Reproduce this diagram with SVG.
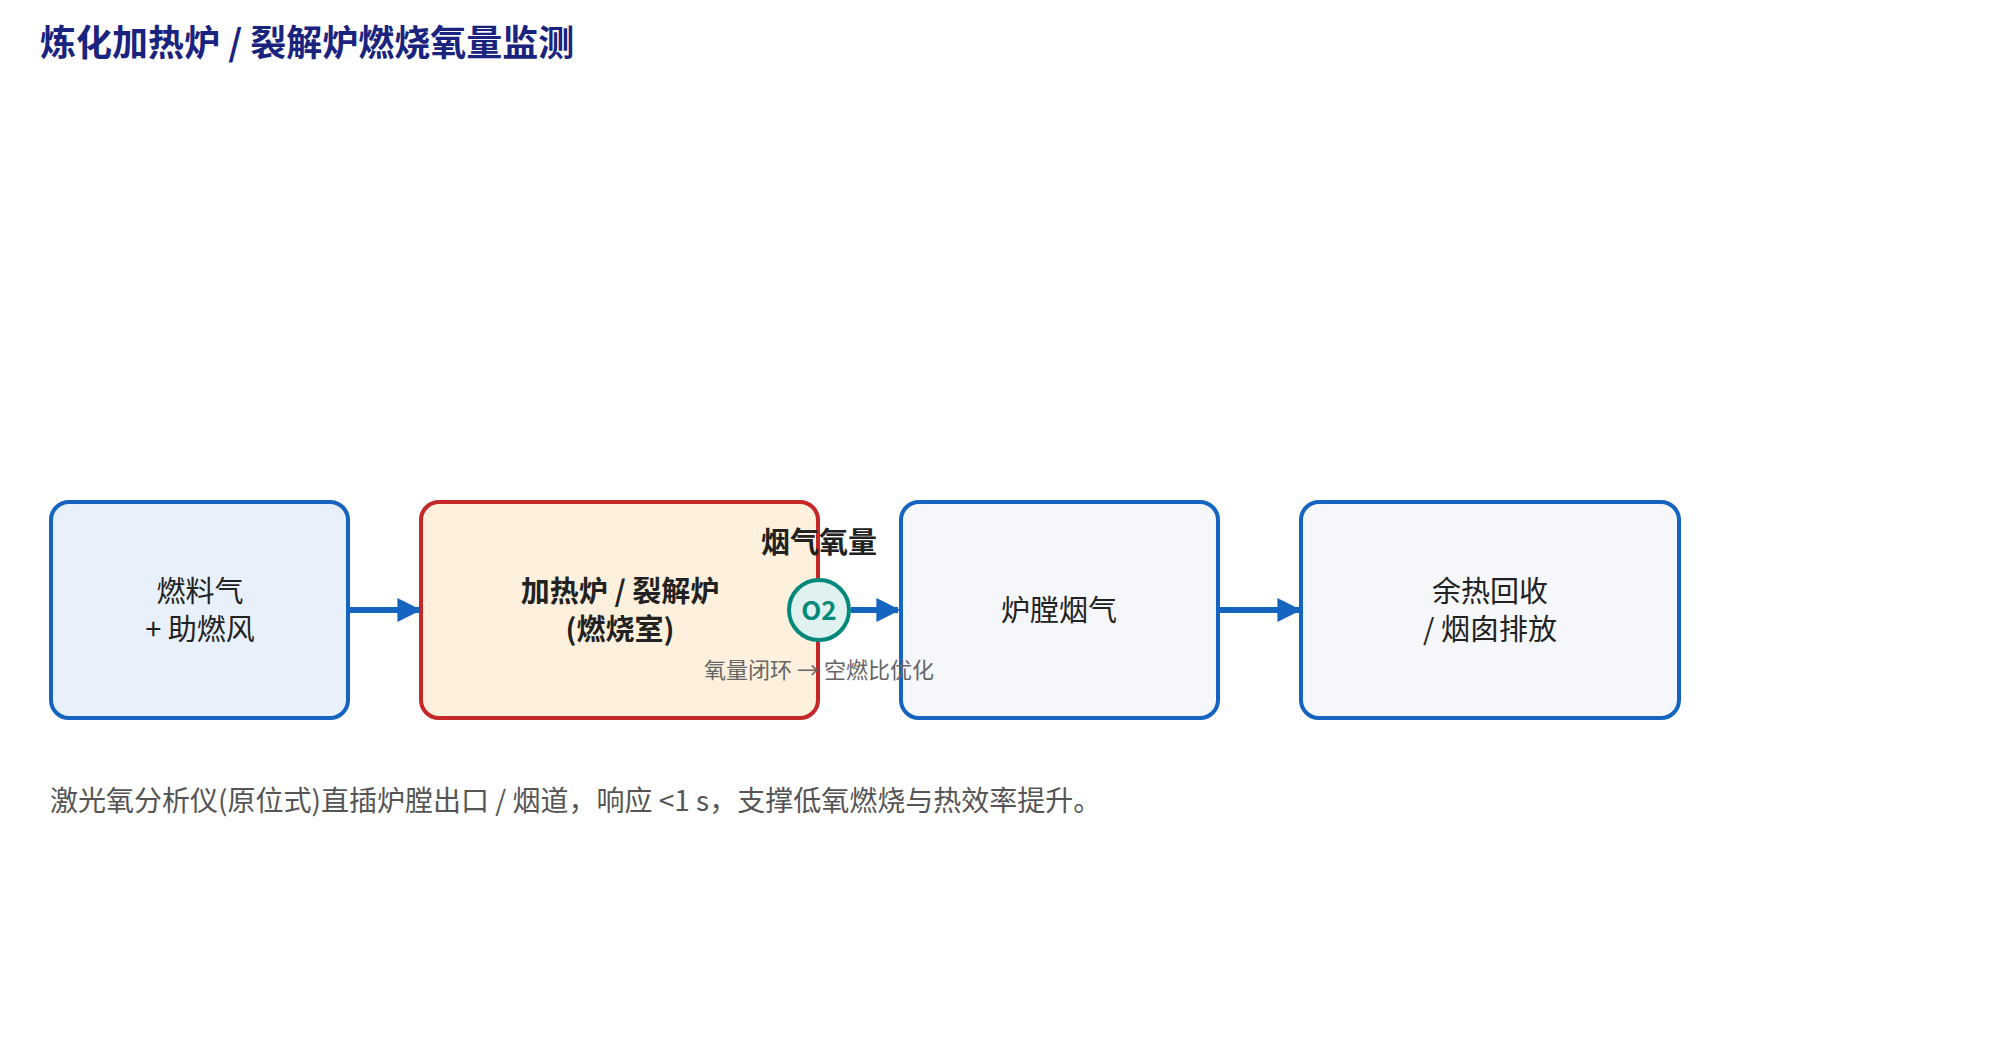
<svg xmlns="http://www.w3.org/2000/svg" width="2000" height="1040" viewBox="0 0 2000 1040">
<style>
text{font-family:"Noto Sans CJK SC","Liberation Sans",sans-serif;}
.box{stroke:#1565c0;stroke-width:4}
.lbl{font-size:29px;fill:#222;text-anchor:middle}
.b{font-weight:bold}
.conn{stroke:#1565c0;stroke-width:6;fill:none}
</style>
<defs>
<marker id="ah" viewBox="0 0 10 10" refX="9" refY="5" markerWidth="4" markerHeight="4" orient="auto" markerUnits="strokeWidth">
<path d="M0,0 L10,5 L0,10 z" fill="#1565c0"/>
</marker>
</defs>
<rect width="2000" height="1040" fill="#fff"/>
<text x="40" y="56" font-size="36" font-weight="bold" fill="#1a237e">炼化加热炉 / 裂解炉燃烧氧量监测</text>
<g id="connectors">
<line class="conn" x1="350" y1="610" x2="419" y2="610" marker-end="url(#ah)"/>
<line class="conn" x1="851" y1="610" x2="898" y2="610" marker-end="url(#ah)"/>
<line class="conn" x1="1220" y1="610" x2="1299" y2="610" marker-end="url(#ah)"/>
</g>
<g id="n1"><rect class="box" x="51" y="502" width="297" height="216" rx="18" fill="#e8f0fc"/>
<text class="lbl" x="200" y="602">燃料气</text><text class="lbl" x="200" y="640">+ 助燃风</text></g>
<g id="n2"><rect x="421" y="502" width="397" height="216" rx="18" fill="#fdf0dc" stroke="#c62828" stroke-width="4"/>
<text class="lbl b" x="620" y="602">加热炉 / 裂解炉</text><text class="lbl b" x="620" y="640">(燃烧室)</text></g>
<g id="n3"><rect class="box" x="901" y="502" width="317" height="216" rx="18" fill="#f5f7fb"/>
<text class="lbl" x="1059" y="621">炉膛烟气</text></g>
<g id="n4"><rect class="box" x="1301" y="502" width="378" height="216" rx="18" fill="#f5f7fb"/>
<text class="lbl" x="1490" y="602">余热回收</text><text class="lbl" x="1490" y="640">/ 烟囱排放</text></g>
<g id="o2"><circle cx="819" cy="610" r="30" fill="#e0f2ef" stroke="#00897b" stroke-width="4"/>
<text x="819" y="620" font-size="26" font-weight="bold" fill="#00897b" text-anchor="middle">O2</text>
<text class="lbl b" x="819" y="553">烟气氧量</text>
<text x="819" y="678" font-size="22" fill="#666" text-anchor="middle">氧量闭环 → 空燃比优化</text></g>
<text x="50" y="811" font-size="28" fill="#555">激光氧分析仪(原位式)直插炉膛出口 / 烟道，响应 &lt;1 s，支撑低氧燃烧与热效率提升。</text>
</svg>
